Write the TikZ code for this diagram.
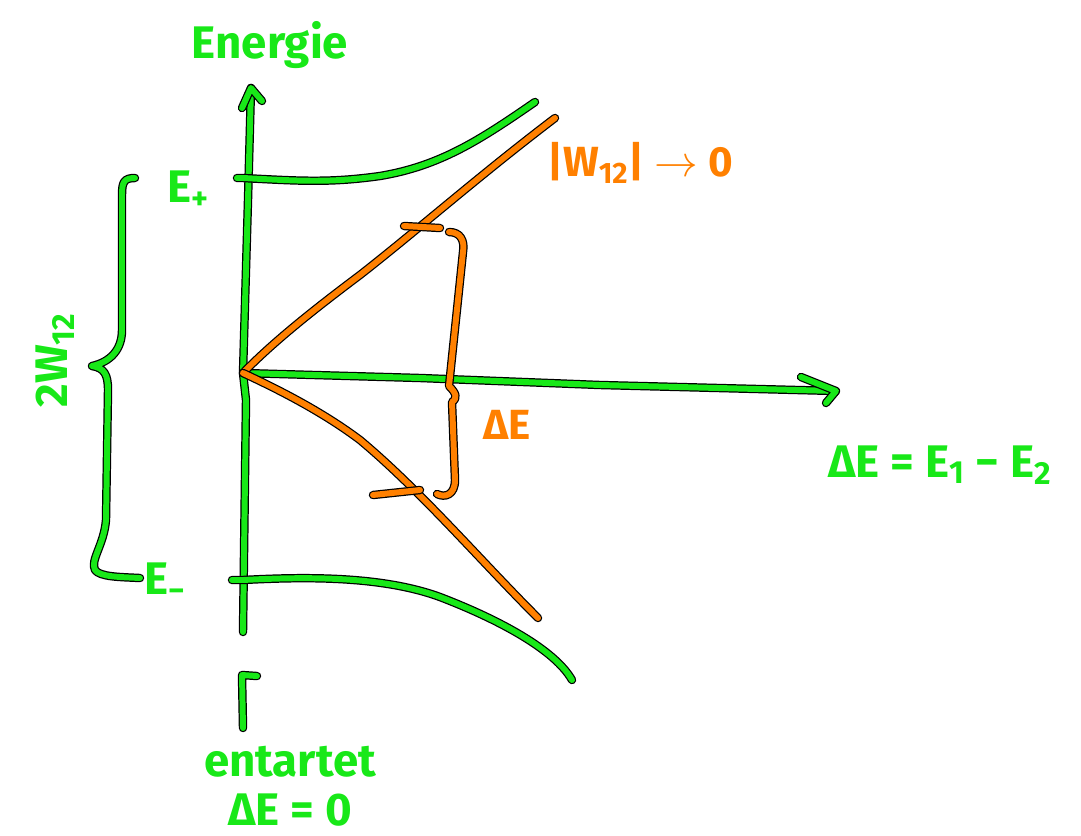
\documentclass[tikz,border=0pt]{standalone}
\usepackage{fontspec}
\setmainfont{Fira Sans}
\definecolor{gr}{RGB}{24,232,24}
\definecolor{orng}{RGB}{255,128,0}
\tikzset{
  gline/.style={draw=black, line width=0.7pt, double=gr, double distance=3.4pt, line cap=round, line join=round},
  oline/.style={draw=black, line width=0.7pt, double=orng, double distance=3.4pt, line cap=round, line join=round},
  glabel/.style={text=gr, font=\bfseries\fontsize{26}{30}\selectfont, inner sep=0pt},
  olabel/.style={text=orng, font=\bfseries\fontsize{24}{28}\selectfont, inner sep=0pt}
}
\begin{document}
\begin{tikzpicture}[x=0.02cm,y=-0.02cm]
\useasboundingbox (0,0) rectangle (1081,835);
% named coordinates
\coordinate (O) at (243,373);
\coordinate (ytop) at (251,88);
\coordinate (ybot) at (243,632);
\coordinate (xend) at (836,391);
\coordinate (Ep) at (243,178);
\coordinate (Em) at (243,580);
% axes
\draw[gline] (ybot) -- (246,400) -- (O) -- (248,200) -- (ytop);
\draw[gline] (242,108) -- (ytop) -- (262,101);
\draw[gline] (O) -- (420,378) -- (600,385) -- (xend);
\draw[gline] (801,377) -- (xend) -- (826,403);
% upper green curve
\draw[gline] (237,178) -- (Ep) .. controls (300,181) and (330,183) .. (380,176)
  .. controls (440,166) and (480,140) .. (535,102);
% lower green curve
\draw[gline] (232,580) -- (Em) .. controls (300,577) and (380,575) .. (440,597)
  .. controls (500,620) and (555,650) .. (572,680);
% orange lines
\draw[oline] (O) .. controls (275,340) and (320,305) .. (360,275)
  .. controls (420,228) and (480,175) .. (555,118);
\draw[oline] (O) .. controls (275,388) and (320,410) .. (360,440)
  .. controls (420,490) and (480,560) .. (538,618);
% ticks on orange lines
\coordinate (t1a) at (404,226);
\coordinate (t1b) at (440,228);
\draw[oline] (t1a) -- (t1b);
\coordinate (t2a) at (373,495);
\coordinate (t2b) at (420,490);
\draw[oline] (t2a) -- (t2b);
% orange bracket
\draw[oline] (449,232) .. controls (460,232) and (465,240) .. (463,252)
  -- (449,386) .. controls (456,393) and (458,398) .. (452,402)
  -- (455,480) .. controls (455,495) and (445,498) .. (437,494);
% green brace
\draw[gline] (135,178) .. controls (124,178) and (122,182) .. (122,195)
  -- (122,330) .. controls (122,350) and (110,362) .. (92,366)
  .. controls (104,368) and (108,374) .. (108,390)
  -- (106,520) .. controls (104,545) and (90,560) .. (95,570)
  .. controls (100,577) and (120,577) .. (140,578);
% bottom small arrow
\coordinate (ba) at (243,728);
\coordinate (bb) at (242,675);
\draw[gline] (ba) -- (bb) -- (257,676);
% labels
\node[glabel] (energie) at (270,45) {Energie};
\node[glabel] (eplus) at (188,190) {E\textsubscript{+}};
\node[glabel] (eminus) at (165,582) {E\textsubscript{−}};
\node[glabel, rotate=90] (w12) at (55,360) {2W\textsubscript{12}};
\node[glabel] (de) at (940,465) {ΔE = E\textsubscript{1} − E\textsubscript{2}};
\node[glabel] (ent) at (290,762) {entartet};
\node[glabel] (de0) at (290,810) {ΔE = 0};
\node[olabel] (w0) at (640,163) {|W\textsubscript{12}| $\rightarrow$ 0};
\node[olabel] (deo) at (507,425) {ΔE};
\end{tikzpicture}
\end{document}
